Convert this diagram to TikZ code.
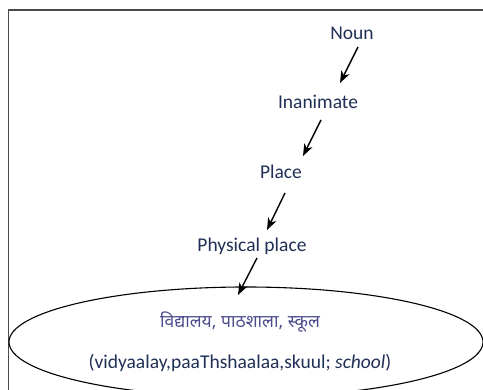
\documentclass[tikz,border=0pt]{standalone}
\usepackage{fontspec}
\setmainfont{Carlito}
\newfontfamily\devfont[Script=Devanagari]{Noto Sans}
\usetikzlibrary{shapes.geometric,arrows.meta,calc}
\definecolor{navy}{HTML}{1F2F55}
\definecolor{devblue}{HTML}{4A4A8C}
\definecolor{framegray}{HTML}{4A4A4A}
\tikzset{
  lbl/.style={inner sep=0pt, text=navy, font=\fontsize{19.5}{22}\selectfont},
  arr/.style={-{Stealth[length=12pt,width=9pt,inset=3.5pt]}, line width=1.4pt, black},
}
\begin{document}
\begin{tikzpicture}[x=1pt,y=-1pt]
\useasboundingbox (0,0) rectangle (483,390);
\draw[framegray, line width=1.8pt] (8.5,400) -- (8.5,10) -- (490,10);
\node[draw, ellipse, line width=1.1pt, minimum width=474pt, minimum height=110pt, inner sep=0pt] (el) at (246,342) {};
\node[lbl] (noun) at (352,33) {Noun};
\node[lbl] (inan) at (318,102) {Inanimate};
\node[lbl] (place) at (281,172) {Place};
\node[lbl] (phys) at (252,246) {Physical place};
\node[inner sep=0pt, text=devblue, font=\devfont\fontsize{17.5}{20}\selectfont] (dev) at (240,322) {विद्यालय, पाठशाला, स्कूल};
\node[lbl] (translit) at (240,363) {(vidyaalay,paaThshaalaa,skuul; \textit{school})};
\draw[arr] ($(noun.center)+(6,14)$) -- ($(inan.center)+(22,-19)$);
\draw[arr] ($(inan.center)+(3,18)$) -- ($(place.center)+(22,-16)$);
\draw[arr] ($(place.center)+(4,21)$) -- ($(phys.center)+(15,-16)$);
\draw[arr] ($(phys.center)+(5,12)$) -- ($(el.center)+(-8,-47)$);
\end{tikzpicture}
\end{document}
